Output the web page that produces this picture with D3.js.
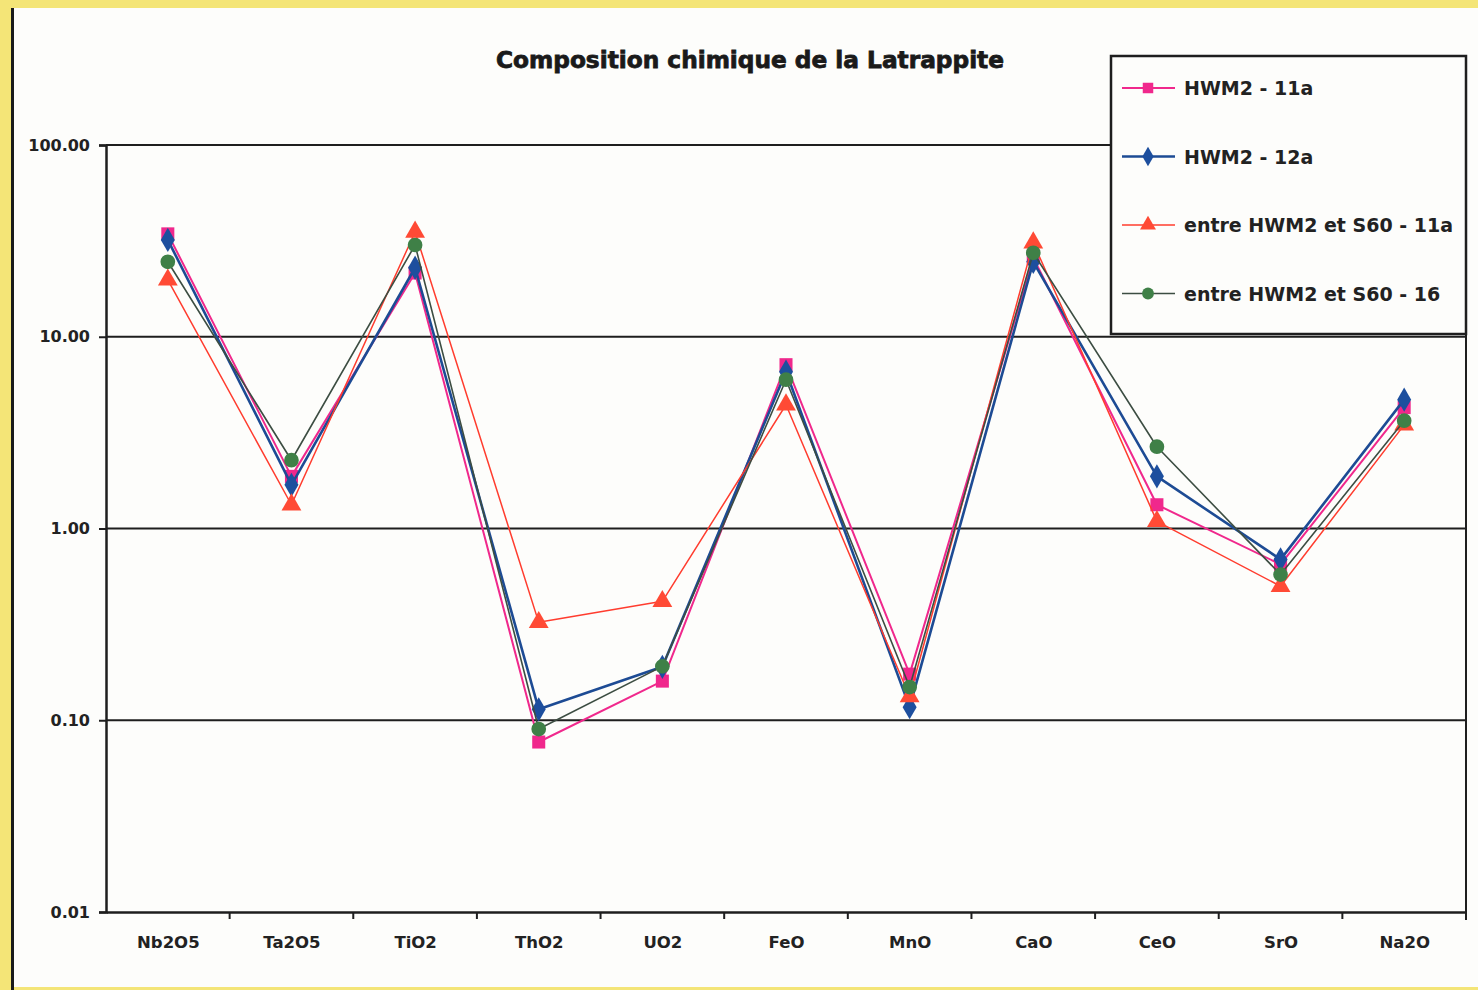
<!DOCTYPE html>
<html>
<head>
<meta charset="utf-8">
<script src="https://cdn.jsdelivr.net/npm/d3@7"></script>
<style>
  html, body { margin: 0; padding: 0; background: #f4e577; }
  svg { display: block; }
</style>
</head>
<body>
<svg id="chart" width="1478" height="990"></svg>
<script>
// Oxides along the x axis
const categories = ["Nb2O5", "Ta2O5", "TiO2", "ThO2", "UO2", "FeO", "MnO", "CaO", "CeO", "SrO", "Na2O"];

// Analyses (wt %), one array per sample
const hwm2_11a   = [34.4, 1.87, 21.5, 0.077, 0.160, 7.15, 0.174, 25.8, 1.33, 0.65, 4.27];
const hwm2_12a   = [32.0, 1.69, 22.9, 0.114, 0.190, 6.57, 0.117, 24.6, 1.87, 0.69, 4.70];
const entre_11a  = [19.8, 1.33, 35.2, 0.324, 0.417, 4.42, 0.133, 30.9, 1.09, 0.50, 3.47];
const entre_16   = [24.6, 2.27, 30.1, 0.090, 0.191, 5.97, 0.149, 27.4, 2.67, 0.575, 3.65];

const seriesNames = ["HWM2 - 11a", "HWM2 - 12a", "entre HWM2 et S60 - 11a", "entre HWM2 et S60 - 16"];
const yTicks = [0.01, 0.1, 1, 10, 100];
const titleText = "Composition chimique de la Latrappite";

const series = [
  { name: seriesNames[0], values: hwm2_11a,  line: "#f0288c", fill: "#f0288c", width: 2,   symbol: d3.symbolSquare,   size: 170 },
  { name: seriesNames[1], values: hwm2_12a,  line: "#1d4b94", fill: "#1d4f9e", width: 2.6, symbol: d3.symbolDiamond,  size: 170 },
  { name: seriesNames[2], values: entre_11a, line: "#ff3c2e", fill: "#ff4a35", width: 1.5, symbol: d3.symbolTriangle, size: 170 },
  { name: seriesNames[3], values: entre_16,  line: "#3c4d42", fill: "#3f8047", width: 1.6, symbol: d3.symbolCircle,   size: 170 }
];

const svg = d3.select("#chart");
const W = 1478, H = 990;
const plot = { left: 106, right: 1466, top: 145, bottom: 912 };

// Sheet: white page with a dark left edge on the yellow background
svg.append("rect").attr("x", 13).attr("y", 8).attr("width", W - 13).attr("height", 979).attr("fill", "#fdfdfb");
svg.append("line").attr("x1", 12.5).attr("x2", 12.5).attr("y1", 8).attr("y2", H)
  .attr("stroke", "#1a1a1a").attr("stroke-width", 3);

const x = d3.scalePoint().domain(categories).range([plot.left, plot.right]).padding(0.5);
const xb = d3.scaleBand().domain(categories).range([plot.left, plot.right]);
const y = d3.scaleLog().domain([0.01, 100]).range([plot.bottom, plot.top]);

const ink = "#1e1e1e";

// Horizontal gridlines at each decade
svg.append("g").selectAll("line").data(yTicks.filter(v => v > 0.01 && v < 100)).join("line")
  .attr("x1", plot.left).attr("x2", plot.right)
  .attr("y1", d => y(d)).attr("y2", d => y(d))
  .attr("stroke", ink).attr("stroke-width", 2);

// Plot frame (top and right)
svg.append("line").attr("x1", plot.left).attr("x2", plot.right).attr("y1", plot.top).attr("y2", plot.top)
  .attr("stroke", ink).attr("stroke-width", 2);
svg.append("line").attr("x1", plot.right).attr("x2", plot.right).attr("y1", plot.top).attr("y2", plot.bottom + 8)
  .attr("stroke", ink).attr("stroke-width", 2);

// Y axis
const yAxis = d3.axisLeft(y).tickValues(yTicks).tickFormat(d3.format(".2f")).tickSize(7).tickPadding(9);
const gy = svg.append("g").attr("transform", `translate(${plot.left},0)`).call(yAxis);
gy.select(".domain").attr("stroke", ink).attr("stroke-width", 2.5);
gy.selectAll(".tick line").attr("stroke", ink).attr("stroke-width", 2);
gy.selectAll(".tick text").attr("fill", "#222").attr("font-family", "DejaVu Sans, sans-serif")
  .attr("font-weight", "bold").attr("font-size", 16);

// X axis: labels centred in each category, tick marks on category boundaries
const xAxis = d3.axisBottom(x).tickSize(0).tickPadding(24);
const gx = svg.append("g").attr("transform", `translate(0,${plot.bottom})`).call(xAxis);
gx.select(".domain").attr("stroke", ink).attr("stroke-width", 2.5);
gx.selectAll(".tick text").attr("fill", "#222").attr("font-family", "DejaVu Sans, sans-serif")
  .attr("font-weight", "bold").attr("font-size", 16.5);
svg.append("g").selectAll("line").data(categories.slice(1)).join("line")
  .attr("x1", d => xb(d)).attr("x2", d => xb(d))
  .attr("y1", plot.bottom).attr("y2", plot.bottom + 7)
  .attr("stroke", ink).attr("stroke-width", 2);

// Series lines and markers
const lineGen = d3.line().x((d, i) => x(categories[i])).y(d => y(d));
const gs = svg.append("g");
series.forEach(s => {
  gs.append("path").datum(s.values).attr("d", lineGen)
    .attr("fill", "none").attr("stroke", s.line).attr("stroke-width", s.width)
    .attr("stroke-linejoin", "round");
  gs.append("g").selectAll("path").data(s.values).join("path")
    .attr("transform", (d, i) => `translate(${x(categories[i])},${y(d)})`)
    .attr("d", d3.symbol().type(s.symbol).size(s.size))
    .attr("fill", s.fill);
});

// Title
svg.append("text").attr("x", 750).attr("y", 68).attr("text-anchor", "middle")
  .attr("font-family", "DejaVu Sans, sans-serif").attr("font-weight", "bold").attr("font-size", 22.5)
  .attr("textLength", 508).attr("lengthAdjust", "spacingAndGlyphs")
  .attr("stroke", "#1a1a1a").attr("stroke-width", 0.8)
  .attr("fill", "#1a1a1a").text(titleText);

// Legend
const lg = svg.append("g");
lg.append("rect").attr("x", 1111).attr("y", 56).attr("width", 355).attr("height", 278)
  .attr("fill", "#fdfdfb").attr("stroke", ink).attr("stroke-width", 2.5);
series.forEach((s, i) => {
  const cy = 88 + i * 68.5;
  lg.append("line").attr("x1", 1122).attr("x2", 1175).attr("y1", cy).attr("y2", cy)
    .attr("stroke", s.line).attr("stroke-width", s.width);
  lg.append("path").attr("transform", `translate(1148,${cy})`)
    .attr("d", d3.symbol().type(s.symbol).size(110)).attr("fill", s.fill);
  lg.append("text").attr("x", 1184).attr("y", cy + 7)
    .attr("font-family", "DejaVu Sans, sans-serif").attr("font-weight", "bold").attr("font-size", 19)
    .attr("fill", "#222").text(s.name);
});
</script>
</body>
</html>
